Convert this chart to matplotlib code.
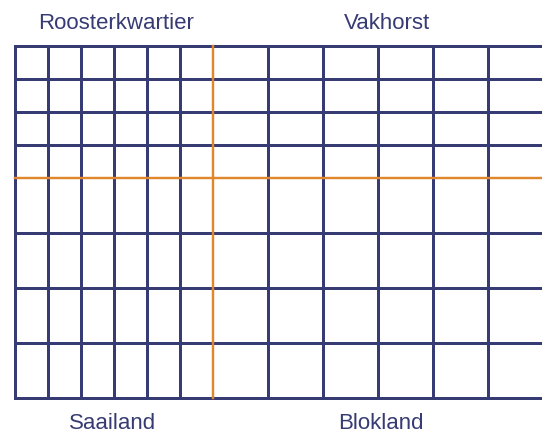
import numpy as np
import matplotlib
matplotlib.use("Agg")
import matplotlib.pyplot as plt

# Grid definition (cell sizes in arbitrary units)
left_cell = 33      # width of cells in the left half
right_cell = 55     # width of cells in the right half
top_cell = 33       # height of cells in the top half
bottom_cell = 55    # height of cells in the bottom half
n_cols_left = 6
n_cols_right = 6
n_rows_top = 4
n_rows_bottom = 4

quarter_labels = ["Roosterkwartier", "Vakhorst", "Saailand", "Blokland"]

navy = "#363b74"
orange = "#e0862c"

W, H = 542, 436
fig = plt.figure(figsize=(W / 100, H / 100), dpi=100)

total_w = n_cols_left * left_cell + n_cols_right * right_cell
total_h = n_rows_top * top_cell + n_rows_bottom * bottom_cell

x0_px, y0_px = 15, 46
ax = fig.add_axes([x0_px / W, (H - y0_px - total_h) / H, total_w / W, total_h / H])
ax.set_xlim(0, total_w)
ax.set_ylim(total_h, 0)
ax.axis("off")

split_x = n_cols_left * left_cell
split_y = n_rows_top * top_cell
xs = np.concatenate([np.arange(n_cols_left + 1) * left_cell,
                     split_x + np.arange(1, n_cols_right + 1) * right_cell])
ys = np.concatenate([np.arange(n_rows_top + 1) * top_cell,
                     split_y + np.arange(1, n_rows_bottom + 1) * bottom_cell])

lw_navy = 3 * 72 / 100
lw_orange = 2.4 * 72 / 100
for x in xs:
    if x == split_x:
        continue
    ax.plot([x, x], [0, total_h], color=navy, lw=lw_navy, clip_on=False, solid_capstyle="projecting")
for y in ys:
    if y == split_y:
        continue
    ax.plot([0, total_w], [y, y], color=navy, lw=lw_navy, clip_on=False, solid_capstyle="projecting")

ax.plot([split_x, split_x], [0, total_h], color=orange, lw=lw_orange, clip_on=False, zorder=5)
ax.plot([0, total_w], [split_y, split_y], color=orange, lw=lw_orange, clip_on=False, zorder=5)

fs = 16
fam = ["Liberation Sans", "DejaVu Sans"]
cx_left = split_x / 2
cx_right = (split_x + total_w) / 2
kw = dict(ha="center", va="baseline", fontsize=fs, color=navy, family=fam)
ax.text(cx_left + 2, -17, quarter_labels[0], **kw)
ax.text(cx_right + 9, -17, quarter_labels[1], **kw)
ax.text(cx_left - 1.5, total_h + 31, quarter_labels[2], **kw)
ax.text(cx_right + 3, total_h + 31, quarter_labels[3], **kw)

fig.savefig("out.png", dpi=100)
